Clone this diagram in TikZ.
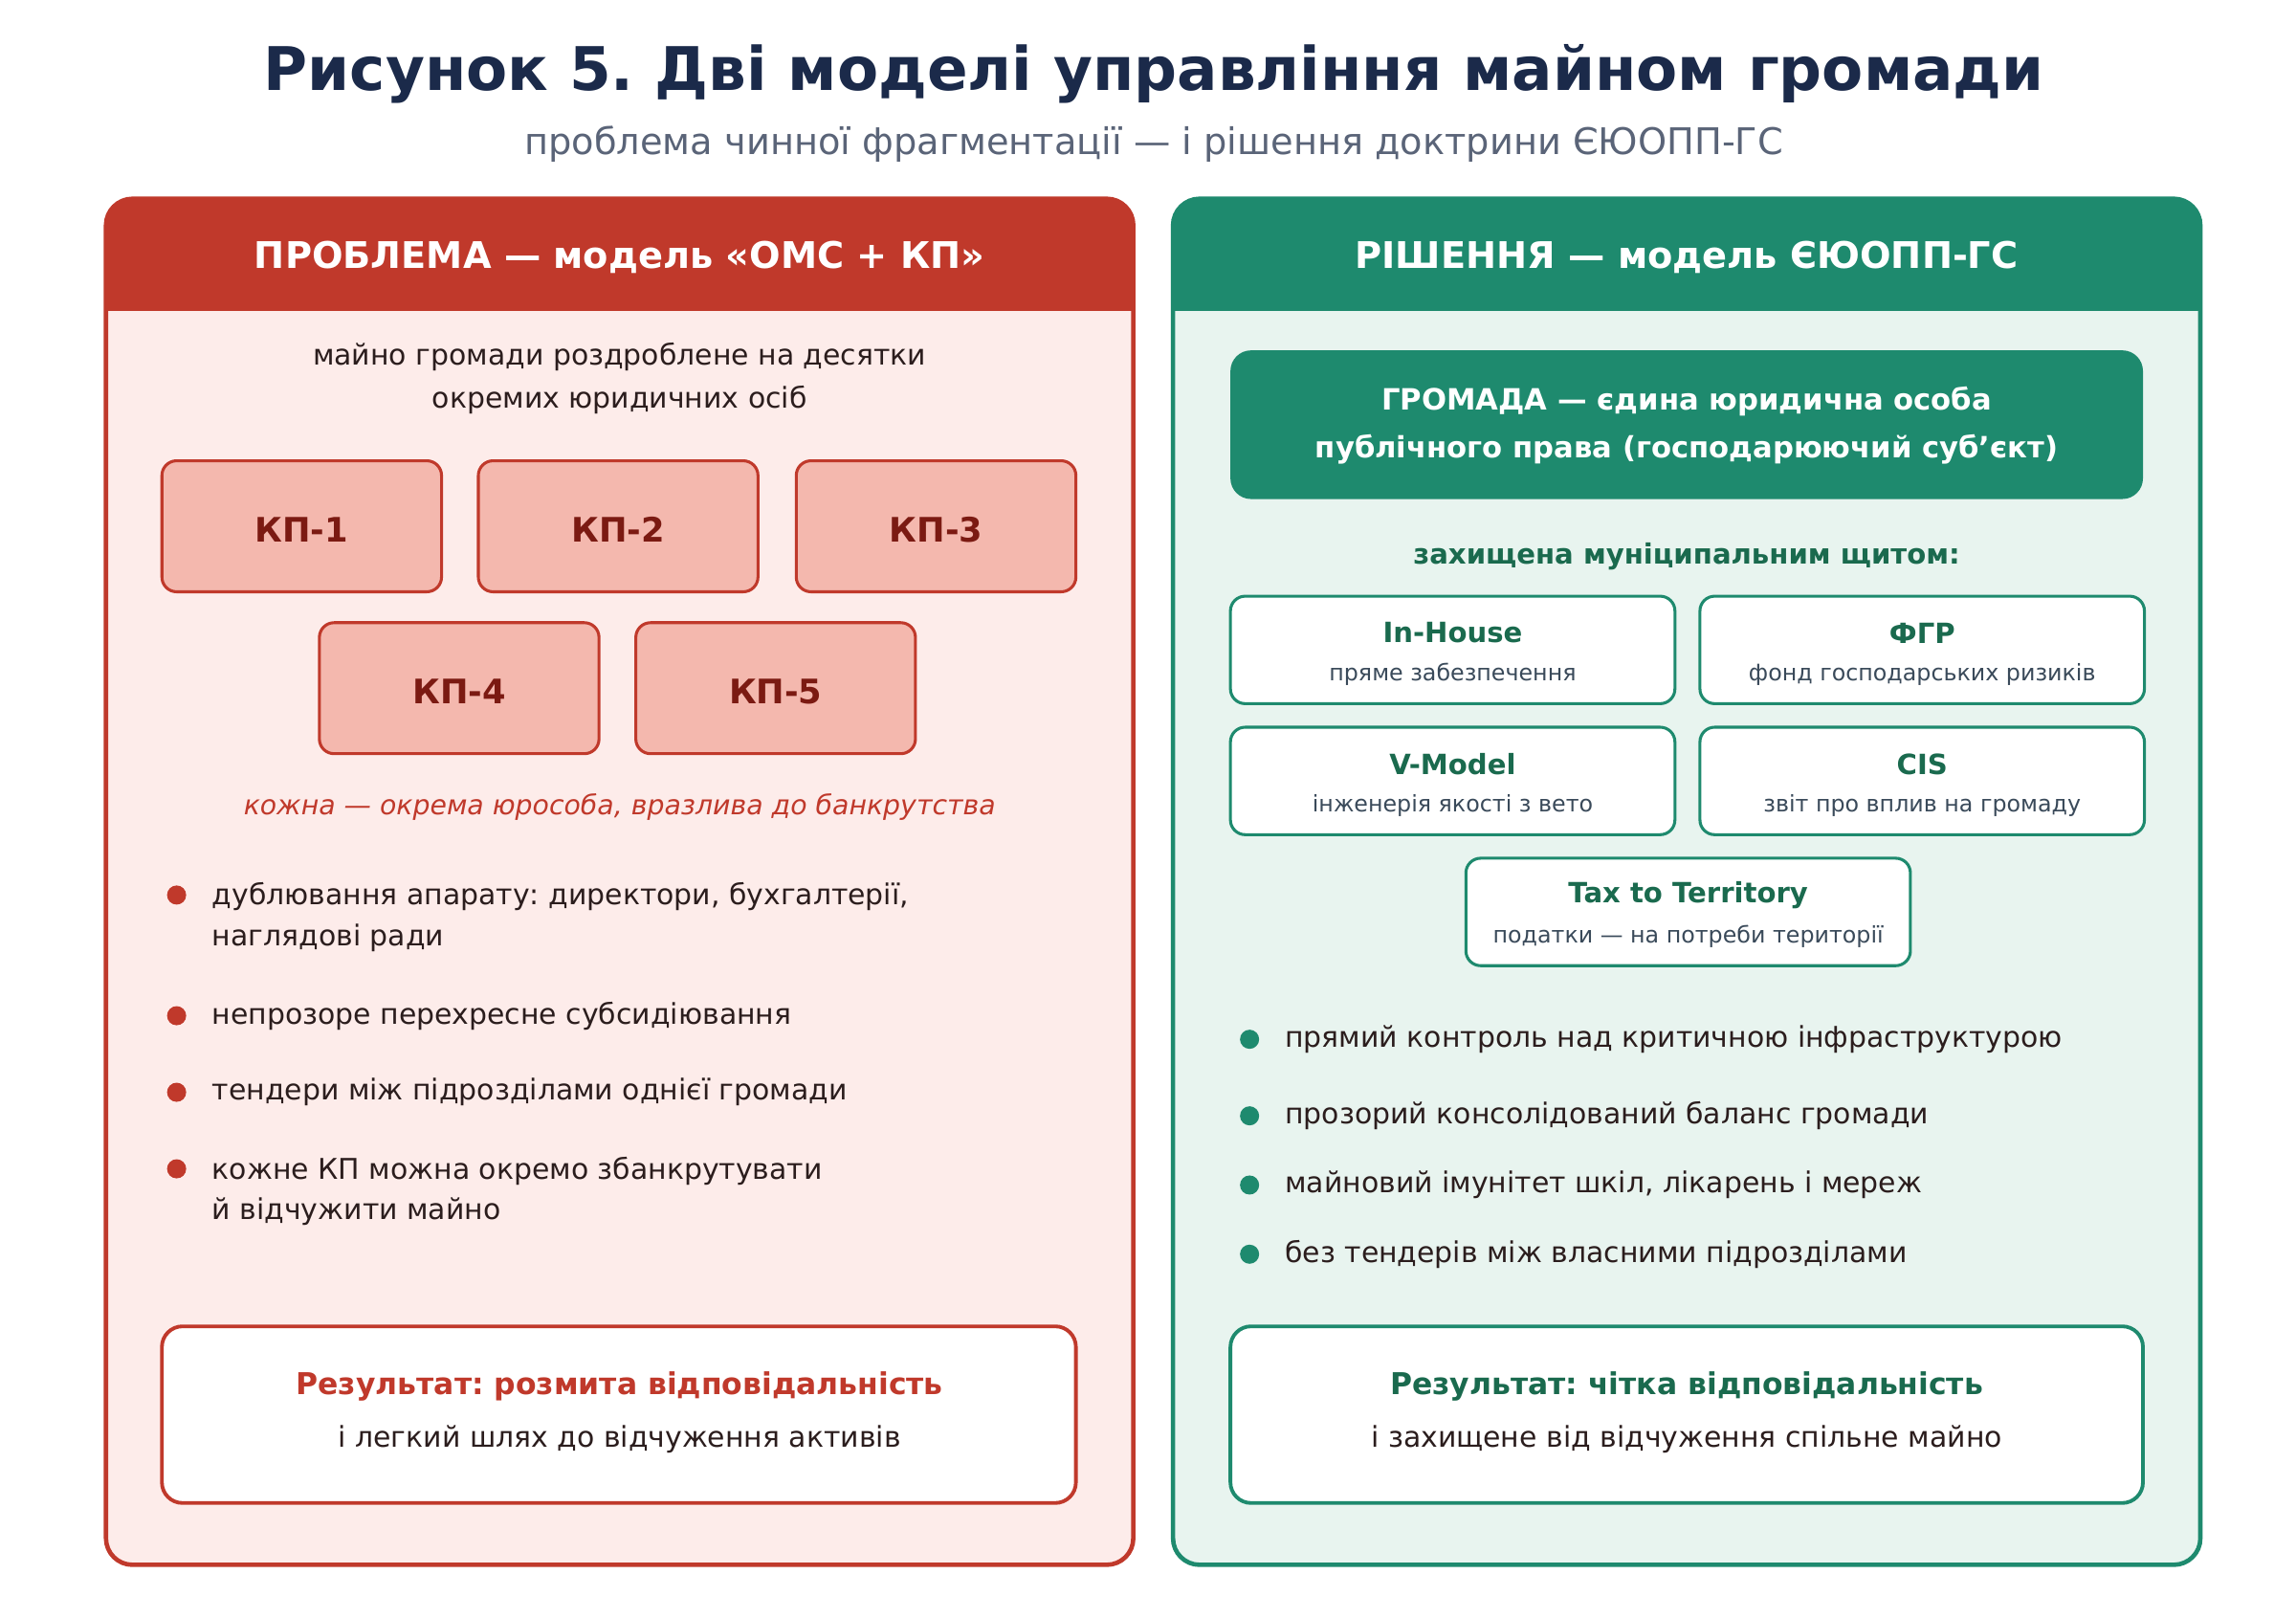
\documentclass[tikz,border=0pt]{standalone}
\usepackage{fontspec}
\setmainfont{DejaVu Sans}
\frenchspacing
\definecolor{navy}{HTML}{1B2A4A}
\definecolor{subg}{HTML}{5A6478}
\definecolor{rd}{HTML}{C0392B}
\definecolor{rdfill}{HTML}{FDECEA}
\definecolor{kpfill}{HTML}{F4B8AE}
\definecolor{kptxt}{HTML}{7B1A12}
\definecolor{gr}{HTML}{1E8A6E}
\definecolor{grfill}{HTML}{E8F4EF}
\definecolor{grtxt}{HTML}{1A6A4E}
\definecolor{darkt}{HTML}{2B1D1D}
\definecolor{smallt}{HTML}{3A4A5A}
\newcommand{\fs}[1]{\fontsize{#1}{#1}\selectfont}
\begin{document}
\begin{tikzpicture}[x=1bp,y=-1bp,
  kp/.style={draw=rd,line width=2bp,fill=kpfill,rounded corners=10bp},
  sb/.style={draw=gr,line width=2bp,fill=white,rounded corners=10bp},
  txt/.style={inner sep=0,anchor=center},
  bl/.style={inner sep=0,anchor=west,align=left,font=\fs{19.5}},
]
\useasboundingbox (0,0) rectangle (1560,1098.5);
\fill[white] (0,0) rectangle (1560,1098.5);
\node[txt,text=navy,font=\fs{41}\bfseries] (title) at (784,50) {Рисунок 5. Дві моделі управління майном громади};
\node[txt,text=subg,font=\fs{25}] (sub) at (784,98) {проблема чинної фрагментації — і рішення доктрини ЄЮОПП-ГС};
% left panel
\begin{scope}
\clip[rounded corners=18bp] (72,135) rectangle (770,1063);
\fill[rdfill] (72,135) rectangle (770,1063);
\fill[rd] (72,135) rectangle (770,211);
\end{scope}
\draw[rd,line width=3bp,rounded corners=18bp] (72,135) rectangle (770,1063);
\node[txt,text=white,font=\fs{25}\bfseries] (lh) at (421,175) {ПРОБЛЕМА — модель «ОМС + КП»};
\node[txt,text=darkt,font=\fs{19.5},align=center] (lt) at (421,257) {майно громади роздроблене на десятки\\[10bp]окремих юридичних осіб};
\foreach \n/\x/\y/\t in {k1/110/313/КП-1,k2/325/313/КП-2,k3/541/313/КП-3,k4/217/423/КП-4,k5/432/423/КП-5}{
  \draw[kp] (\x,\y) rectangle ++(190,89);
  \node[txt,text=kptxt,font=\fs{23}\bfseries] (\n) at (\x+95,\y+47) {\t};
}
\node[txt,text=rd,font=\fs{18.5}\itshape] (li) at (421,548) {кожна — окрема юрособа, вразлива до банкрутства};
\foreach \y in {608,690,742,794} \fill[rd] (120,\y) circle (6.5bp);
\node[bl,text=darkt] (b1) at (144,623) {дублювання апарату: директори, бухгалтерії,\\[8bp]наглядові ради};
\node[bl,text=darkt] (b2) at (144,690) {непрозоре перехресне субсидіювання};
\node[bl,text=darkt] (b3) at (144,742) {тендери між підрозділами однієї громади};
\node[bl,text=darkt] (b4) at (144,809) {кожне КП можна окремо збанкрутувати\\[8bp]й відчужити майно};
\draw[draw=rd,line width=2.5bp,fill=white,rounded corners=14bp] (110,901) rectangle (731,1021);
\node[txt,text=rd,font=\fs{20.5}\bfseries] (lr1) at (421,942) {Результат: розмита відповідальність};
\node[txt,text=darkt,font=\fs{19.5}] (lr2) at (421,978) {і легкий шлях до відчуження активів};
% right panel
\begin{scope}
\clip[rounded corners=18bp] (797,135) rectangle (1495,1063);
\fill[grfill] (797,135) rectangle (1495,1063);
\fill[gr] (797,135) rectangle (1495,211);
\end{scope}
\draw[gr,line width=3bp,rounded corners=18bp] (797,135) rectangle (1495,1063);
\node[txt,text=white,font=\fs{25}\bfseries] (rh) at (1146,175) {РІШЕННЯ — модель ЄЮОПП-ГС};
\fill[gr,rounded corners=14bp] (836,238) rectangle (1456,339);
\node[txt,text=white,font=\fs{20}\bfseries,align=center] (g) at (1146,289) {ГРОМАДА — єдина юридична особа\\[12bp]публічного права (господарюючий суб’єкт)};
\node[txt,text=grtxt,font=\fs{19}\bfseries] (sh) at (1146,378) {захищена муніципальним щитом:};
\foreach \n/\x/\y/\a/\b in {s1/836/405/In-House/пряме забезпечення,s2/1155/405/ФГР/фонд господарських ризиків,s3/836/494/V-Model/інженерія якості з вето,s4/1155/494/CIS/звіт про вплив на громаду,s5/996/583/Tax to Territory/податки — на потреби території}{
  \draw[sb] (\x,\y) rectangle ++(302,73);
  \node[txt,text=grtxt,font=\fs{19}\bfseries] (\n) at (\x+151,\y+25) {\a};
  \node[txt,text=smallt,font=\fs{15.5}] (\n b) at (\x+151,\y+53) {\b};
}
\foreach \y in {706,758,805,852} \fill[gr] (849,\y) circle (6.5bp);
\node[bl,text=darkt] (c1) at (873,706) {прямий контроль над критичною інфраструктурою};
\node[bl,text=darkt] (c2) at (873,758) {прозорий консолідований баланс громади};
\node[bl,text=darkt] (c3) at (873,805) {майновий імунітет шкіл, лікарень і мереж};
\node[bl,text=darkt] (c4) at (873,852) {без тендерів між власними підрозділами};
\draw[draw=gr,line width=2.5bp,fill=white,rounded corners=14bp] (836,901) rectangle (1456,1021);
\node[txt,text=grtxt,font=\fs{20.5}\bfseries] (rr1) at (1146,942) {Результат: чітка відповідальність};
\node[txt,text=darkt,font=\fs{19.5}] (rr2) at (1146,978) {і захищене від відчуження спільне майно};
\end{tikzpicture}
\end{document}
